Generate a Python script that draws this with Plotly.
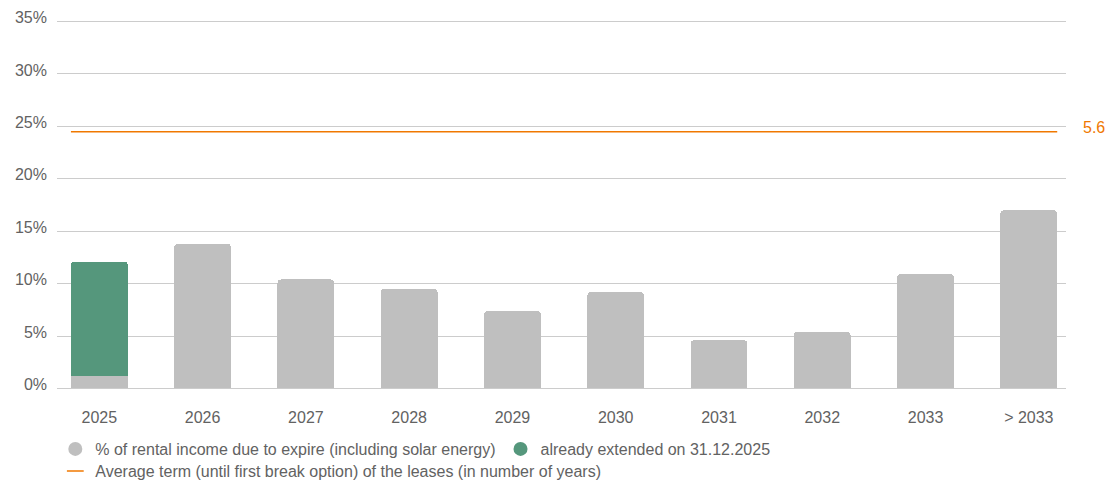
import plotly.graph_objects as go

categories = ["2025", "2026", "2027", "2028", "2029", "2030", "2031", "2032", "2033", "> 2033"]
expiring = [1.2, 13.8, 10.4, 9.5, 7.4, 9.2, 4.6, 5.4, 10.9, 17.0]
extended = [10.9, None, None, None, None, None, None, None, None, None]
avg_term = 5.6

y_ticks = [0, 5, 10, 15, 20, 25, 30, 35]
y_ticktext = [f"{v}%" for v in y_ticks]

GREY = "#bfbfbf"
GREEN = "#55977c"
ORANGE = "#f07800"
TEXT = "#626262"
FONT = "Liberation Sans, Arial, sans-serif"
FS = 16
BAR_W = 0.55

xpos = list(range(len(categories)))

fig = go.Figure()
fig.add_trace(go.Bar(x=xpos, y=expiring, width=BAR_W, marker=dict(color=GREY, line=dict(width=0)),
                     showlegend=False, name="% of rental income due to expire (including solar energy)"))
fig.add_trace(go.Bar(x=xpos, y=extended, width=BAR_W, marker=dict(color=GREEN, line=dict(width=0)),
                     showlegend=False, name="already extended on 31.12.2025"))

# line for average term on secondary axis
x_line = [xpos[0] - BAR_W / 2, xpos[-1] + BAR_W / 2]
fig.add_trace(go.Scatter(x=x_line, y=[avg_term, avg_term], yaxis="y2", mode="lines",
                         line=dict(color=ORANGE, width=1.5), showlegend=False, hoverinfo="skip"))

# legend entries
fig.add_trace(go.Scatter(x=[None], y=[None], mode="markers",
                         marker=dict(symbol="circle", size=14, color=GREY),
                         name="% of rental income due to expire (including solar energy)", legend="legend"))
fig.add_trace(go.Scatter(x=[None], y=[None], mode="markers",
                         marker=dict(symbol="circle", size=14, color=GREEN),
                         name="already extended on 31.12.2025", legend="legend"))
fig.add_trace(go.Scatter(x=[None], y=[None], mode="markers",
                         marker=dict(symbol="line-ew", size=12, color=ORANGE,
                                     line=dict(color=ORANGE, width=1.5)),
                         name="Average term (until first break option) of the leases (in number of years)",
                         legend="legend2"))

fig.add_annotation(x=1.0149, xref="paper", xanchor="left", y=avg_term, yref="y2", yanchor="middle",
                   yshift=4, text=f"{avg_term}", showarrow=False,
                   font=dict(color=ORANGE, size=FS, family=FONT))

Y_PAD = 0.15  # keeps the 0% and 35% grid lines from being clipped at the plot edges

fig.update_layout(
    width=1106, height=480,
    margin=dict(l=57, r=40, t=19.6, b=90.4, autoexpand=False),
    paper_bgcolor="white", plot_bgcolor="white",
    barmode="stack", barcornerradius=4,
    font=dict(family=FONT, size=FS, color=TEXT),
    xaxis=dict(range=[-0.41, 9.36], tickvals=xpos, ticktext=categories, showgrid=False,
               zeroline=False, showline=False, ticks="", ticklabelstandoff=16, automargin=False,
               tickfont=dict(size=FS, color=TEXT)),
    yaxis=dict(range=[-Y_PAD, 35 + Y_PAD], tickvals=y_ticks, ticktext=y_ticktext, showgrid=True,
               gridcolor="#cccccc", gridwidth=1, zeroline=False, showline=False, ticks="",
               ticklabelstandoff=9, ticklabelshift=-4, automargin=False,
               tickfont=dict(size=FS, color=TEXT)),
    yaxis2=dict(range=[-Y_PAD * 8 / 35, 8 + Y_PAD * 8 / 35], overlaying="y", side="right",
                visible=False, showgrid=False),
    legend=dict(orientation="h", xref="container", yref="container", x=0.05, y=0.0646,
                xanchor="left", yanchor="middle", font=dict(size=FS, color=TEXT),
                bgcolor="rgba(0,0,0,0)", itemwidth=30, traceorder="normal"),
    legend2=dict(orientation="h", xref="container", yref="container", x=0.05, y=0.0188,
                 xanchor="left", yanchor="middle", font=dict(size=FS, color=TEXT),
                 bgcolor="rgba(0,0,0,0)", itemwidth=30),
    showlegend=True,
)

fig.write_html("out.html")
